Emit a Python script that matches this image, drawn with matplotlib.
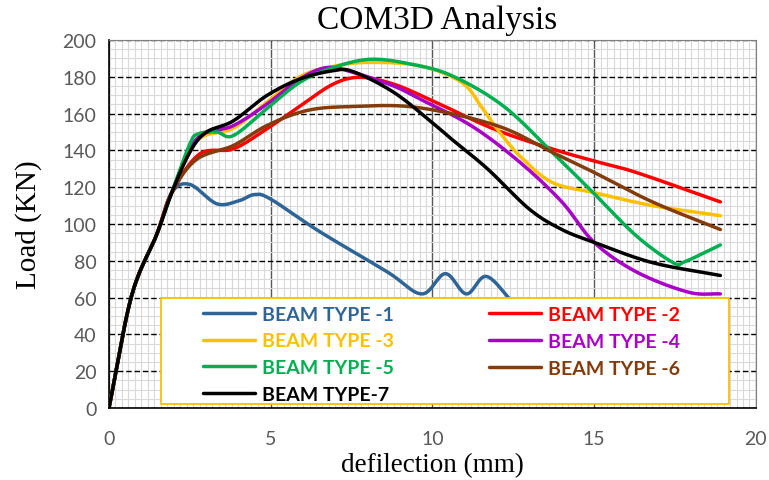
import numpy as np
import matplotlib
matplotlib.use("Agg")
import matplotlib.pyplot as plt
from matplotlib.ticker import MultipleLocator
from matplotlib.patches import Rectangle

# deflection (mm) / load (KN)
x1 = [0, 0.7, 1.47, 1.94, 2.5, 3.33, 4.0, 4.5, 5.0, 6.5, 8.6, 9.67, 10.4, 11.05, 11.67, 12.5]
y1 = [0, 61, 94, 117, 121.5, 111, 112.5, 116, 113.5, 96, 74, 62, 73, 62, 71.5, 57]

x2 = [0, 0.7, 1.47, 1.94, 2.8, 3.84, 4.87, 5.9, 6.93, 7.76, 8.8, 10.0, 11.9, 13.7, 14.96, 16.3, 18.9]
y2 = [0, 61, 94, 117, 138, 140.8, 151.6, 164, 176, 179.7, 176, 167, 151.6, 140.8, 134.4, 128, 112]

x3 = [0, 0.7, 1.47, 1.94, 2.7, 3.84, 4.87, 5.9, 6.9, 7.97, 9.6, 10.9, 11.5, 12.0, 12.7, 13.7, 15.0, 16.8, 18.9]
y3 = [0, 61, 94, 117, 145, 152, 166, 180, 185.5, 187.8, 186, 177, 164, 151.6, 137, 122.6, 117, 110, 104.5]

x4 = [0, 0.7, 1.47, 1.94, 2.7, 3.84, 4.87, 5.9, 6.73, 7.55, 8.8, 9.6, 11.2, 12.7, 14.0, 15.0, 16.3, 17.9, 18.9]
y4 = [0, 61, 94, 117, 146, 153.4, 165, 178.8, 185, 182.4, 175, 168, 153.4, 133.6, 112, 90, 74, 63, 62]

x5 = [0, 0.7, 1.47, 1.94, 2.5, 2.76, 3.33, 3.84, 4.87, 5.9, 6.93, 8.07, 9.3, 10.6, 12.2, 13.7, 14.97, 16.3, 17.44, 17.8, 18.9]
y5 = [0, 61, 94, 117, 143.5, 149, 150, 148, 162.5, 177, 185, 189.5, 187, 180.6, 164, 139, 117, 93.6, 79, 79.5, 88.6]

x6 = [0, 0.7, 1.47, 1.94, 2.7, 3.84, 4.87, 6.1, 7.45, 9.5, 12.0, 13.7, 15.0, 16.8, 18.9]
y6 = [0, 61, 94, 117, 135, 142.6, 153.4, 161.6, 163.8, 163.4, 153.4, 139, 128, 112, 97]

x7 = [0, 0.7, 1.47, 1.94, 2.5, 3.0, 3.84, 4.87, 5.9, 6.93, 7.55, 8.8, 10.0, 10.6, 11.7, 13.0, 14.0, 15.0, 16.8, 18.9]
y7 = [0, 61, 94, 117, 139, 149.8, 156, 169.7, 178.8, 183.3, 182.8, 171.6, 155, 146, 130, 108, 97, 90, 79, 72]

labels = ["BEAM TYPE -1", "BEAM TYPE -2", "BEAM TYPE -3", "BEAM TYPE -4",
          "BEAM TYPE -5", "BEAM TYPE -6", "BEAM TYPE-7"]
colors = ["#2E6596", "#FF0000", "#FFC000", "#A900C8", "#00B050", "#843C0C", "#000000"]


def smooth(x, y, n=20):
    # catmull-rom, like excel's "smoothed line"
    x = np.asarray(x, float)
    y = np.asarray(y, float)
    px = np.concatenate([[2 * x[0] - x[1]], x, [2 * x[-1] - x[-2]]])
    py = np.concatenate([[2 * y[0] - y[1]], y, [2 * y[-1] - y[-2]]])
    t = np.linspace(0, 1, n, endpoint=False)[:, None]
    outx, outy = [], []
    for i in range(1, len(px) - 2):
        for p, out in ((px, outx), (py, outy)):
            p0, p1, p2, p3 = p[i - 1], p[i], p[i + 1], p[i + 2]
            v = 0.5 * ((2 * p1) + (-p0 + p2) * t + (2 * p0 - 5 * p1 + 4 * p2 - p3) * t ** 2
                       + (-p0 + 3 * p1 - 3 * p2 + p3) * t ** 3)
            out.extend(v.ravel())
    outx.append(x[-1])
    outy.append(y[-1])
    return outx, outy


fig = plt.figure(figsize=(7.69, 4.81), dpi=100)
ax = fig.add_axes([0.1417, 0.1497, 0.8413, 0.7651])

series = [(x1, y1), (x2, y2), (x3, y3), (x4, y4), (x5, y5), (x6, y6), (x7, y7)]
handles = []
for (xs, ys), lab, c in zip(series, labels, colors):
    sx, sy = smooth(xs, ys)
    h, = ax.plot(sx, sy, color=c, lw=2.5, label=lab, solid_capstyle="round", zorder=3)
    handles.append(h)

ax.set_xlim(0, 20)
ax.set_ylim(0, 200)
ax.xaxis.set_major_locator(MultipleLocator(5))
ax.yaxis.set_major_locator(MultipleLocator(20))
ax.xaxis.set_minor_locator(MultipleLocator(0.2))
ax.yaxis.set_minor_locator(MultipleLocator(5))
ax.grid(which="minor", color="#D9D9D9", lw=0.8, zorder=0)
ax.grid(which="major", axis="x", color="#595959", lw=1.0, zorder=1)
ax.grid(which="major", axis="y", color="#000000", lw=1.0, ls=(0, (4, 2)), zorder=1)
ax.set_axisbelow(True)
ax.tick_params(which="both", length=0)
ax.tick_params(labelsize=14, labelcolor="#595959")
ax.tick_params(axis="x", pad=16)
ax.tick_params(axis="y", pad=9)
for lab in ax.get_xticklabels() + ax.get_yticklabels():
    lab.set_fontfamily("Lato")
for s in ["top", "right"]:
    ax.spines[s].set_color("#7F7F7F")
for s in ["left", "bottom"]:
    ax.spines[s].set_color("#000000")
    ax.spines[s].set_linewidth(1.2)

ax.text(0.507, 1.055, "COM3D Analysis", transform=ax.transAxes, ha="center", va="center",
        fontfamily="Liberation Serif", fontsize=24)
ax.set_xlabel("defilection (mm)", fontfamily="Liberation Serif", fontsize=19.5)
ax.xaxis.label.set_va("center")
ax.xaxis.set_label_coords(0.5, -0.153)
ax.set_ylabel("Load (KN)", fontfamily="Liberation Serif", fontsize=21)
ax.yaxis.label.set_va("center")
ax.yaxis.set_label_coords(-0.125, 0.5)

# legend box
ax.add_patch(Rectangle((0.0804, 0.011), 0.8776, 0.287, transform=ax.transAxes,
                       facecolor="white", edgecolor="#FFC000", lw=1.3, zorder=5))

legkw = dict(frameon=False, loc="center left", borderpad=0, handlelength=2.7,
             handletextpad=0.36, labelspacing=0.5,
             prop={"family": "Lato", "weight": "bold", "size": 14})
left = [0, 2, 4, 6]
right = [1, 3, 5]
leg1 = ax.legend([handles[i] for i in left], [labels[i] for i in left],
                 bbox_to_anchor=(0.130, 0.146), **legkw)
for txt, i in zip(leg1.get_texts(), left):
    txt.set_color(colors[i])
leg1.set_zorder(6)
ax.add_artist(leg1)
leg2 = ax.legend([handles[i] for i in right], [labels[i] for i in right],
                 bbox_to_anchor=(0.572, 0.181), **legkw)
for txt, i in zip(leg2.get_texts(), right):
    txt.set_color(colors[i])
leg2.set_zorder(6)

fig.savefig("out.png", dpi=100)
